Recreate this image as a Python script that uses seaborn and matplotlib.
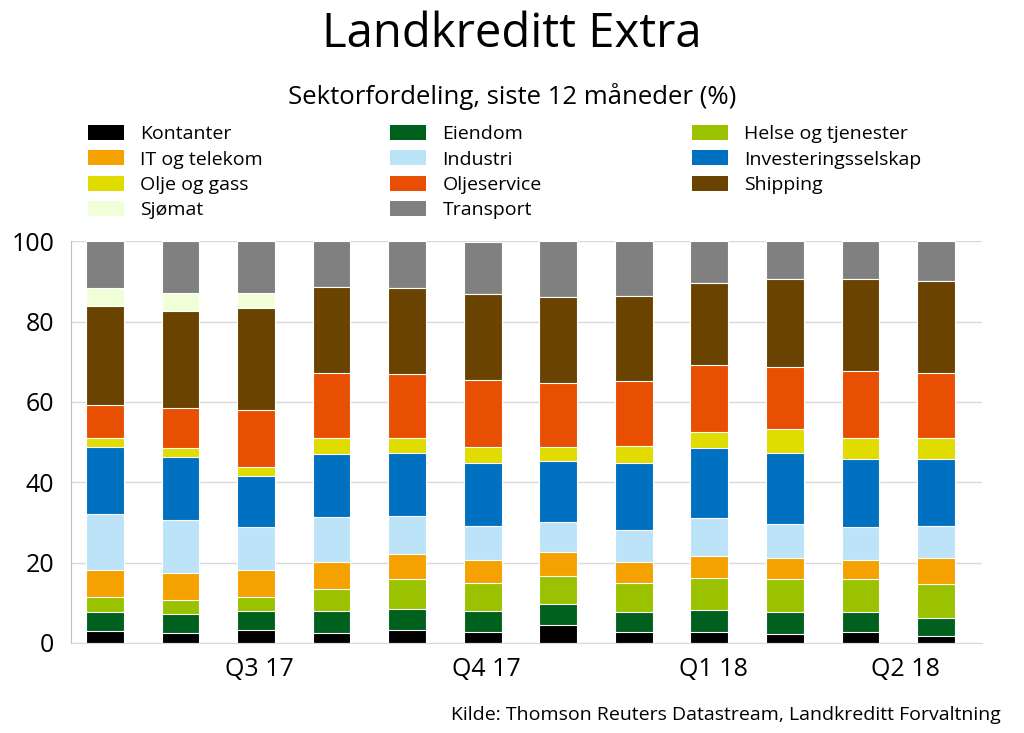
import numpy as np
import pandas as pd
import seaborn as sns
import matplotlib.pyplot as plt
from matplotlib.patches import Patch

months = ["2017-05", "2017-06", "2017-07", "2017-08", "2017-09", "2017-10",
          "2017-11", "2017-12", "2018-01", "2018-02", "2018-03", "2018-04"]

# stacked bottom -> top
sectors = ["Kontanter", "Eiendom", "Helse og tjenester", "IT og telekom", "Industri",
           "Investeringsselskap", "Olje og gass", "Oljeservice", "Shipping", "Sjømat", "Transport"]

kontanter = [3.0, 2.5, 3.3, 2.5, 3.2, 2.7, 4.6, 2.7, 2.7, 2.2, 2.7, 1.7]
eiendom = [4.7, 4.7, 4.7, 5.5, 5.3, 5.3, 5.2, 5.0, 5.5, 5.4, 4.9, 4.5]
helse = [3.8, 3.6, 3.5, 5.4, 7.4, 6.9, 6.8, 7.2, 8.0, 8.3, 8.2, 8.4]
it_telekom = [6.6, 6.7, 6.6, 6.8, 6.3, 5.7, 6.0, 5.3, 5.4, 5.3, 4.9, 6.5]
industri = [13.9, 13.0, 10.7, 11.2, 9.5, 8.6, 7.6, 8.0, 9.5, 8.3, 8.1, 8.1]
invest = [16.8, 15.8, 12.7, 15.7, 15.6, 15.6, 15.1, 16.6, 17.5, 17.9, 17.1, 16.6]
olje_gass = [2.3, 2.3, 2.2, 3.8, 3.6, 4.0, 3.5, 4.3, 4.0, 5.8, 5.2, 5.3]
oljeservice = [8.2, 9.9, 14.2, 16.2, 16.0, 16.6, 15.8, 16.0, 16.6, 15.4, 16.5, 16.0]
shipping = [24.5, 24.1, 25.5, 21.5, 21.5, 21.5, 21.6, 21.3, 20.5, 21.9, 22.9, 23.1]
sjomat = [4.6, 4.5, 3.8, 0, 0, 0, 0, 0, 0, 0, 0, 0]
transport = [11.6, 12.9, 12.8, 11.4, 11.6, 12.9, 13.8, 13.6, 10.3, 9.5, 9.5, 9.8]

quarter_labels = ["Q3 17", "Q4 17", "Q1 18", "Q2 18"]

colors = ["#000000", "#00611E", "#9BC200", "#F5A100", "#BDE3F8",
          "#0070C0", "#E0DC00", "#E94F02", "#6B4300", "#F1FFD9", "#808080"]

values = pd.DataFrame(
    [kontanter, eiendom, helse, it_telekom, industri, invest,
     olje_gass, oljeservice, shipping, sjomat, transport],
    index=sectors, columns=months,
)
cum = values.cumsum(axis=0)

sns.set_style("white")
plt.rcParams["font.family"] = ["Open Sans", "DejaVu Sans"]
plt.rcParams["text.color"] = "black"
plt.rcParams["xtick.color"] = "black"
plt.rcParams["ytick.color"] = "black"

fig = plt.figure(figsize=(10.24, 7.33), dpi=100)
ax = fig.add_axes([0.0693, 0.1228, 0.8897, 0.5482])

# draw cumulative totals from the top down so each layer sits on the one below
for i in reversed(range(len(sectors))):
    sns.barplot(x=months, y=cum.iloc[i].values, color=colors[i], width=0.5,
                edgecolor="white", linewidth=0.8, saturation=1, ax=ax, order=months)

ax.set_ylim(0, 100)
ax.set_xlim(-0.45, 11.61)
ax.set_yticks([0, 20, 40, 60, 80, 100])
ax.yaxis.grid(True, color="#D9D9D9", linewidth=1)
ax.set_axisbelow(True)
ax.set_xticks([2.05, 5.05, 8.05, 10.6])
ax.set_xticklabels(quarter_labels)
ax.tick_params(axis="both", length=0, labelsize=18)
ax.tick_params(axis="y", pad=12)
ax.tick_params(axis="x", pad=10)
ax.set_xlabel("")
ax.set_ylabel("")
for s in ["top", "right"]:
    ax.spines[s].set_visible(False)
ax.spines["left"].set_color("#BFBFBF")
ax.spines["bottom"].set_color("#D9D9D9")

fig.text(0.5, 0.953, "Landkreditt Extra", ha="center", va="center", fontsize=34)
fig.text(0.5, 0.869, "Sektorfordeling, siste 12 måneder (%)", ha="center", va="center", fontsize=18.5)
fig.text(0.977, 0.0245, "Kilde: Thomson Reuters Datastream, Landkreditt Forvaltning",
         ha="right", va="center", fontsize=14)

# legend laid out row by row in three fixed columns
col_x = [88, 390, 692]
for c in range(3):
    idx = list(range(c, len(sectors), 3))
    handles = [Patch(facecolor=colors[i], edgecolor="none") for i in idx]
    labels = [sectors[i] for i in idx]
    fig.legend(handles, labels, loc="upper left",
               bbox_to_anchor=(col_x[c] / 1024, 1 - 125 / 733),
               frameon=False, fontsize=14, handlelength=1.85, handleheight=0.8,
               handletextpad=0.85, labelspacing=0.37, borderpad=0, borderaxespad=0)

fig.savefig("out.png", dpi=100)
